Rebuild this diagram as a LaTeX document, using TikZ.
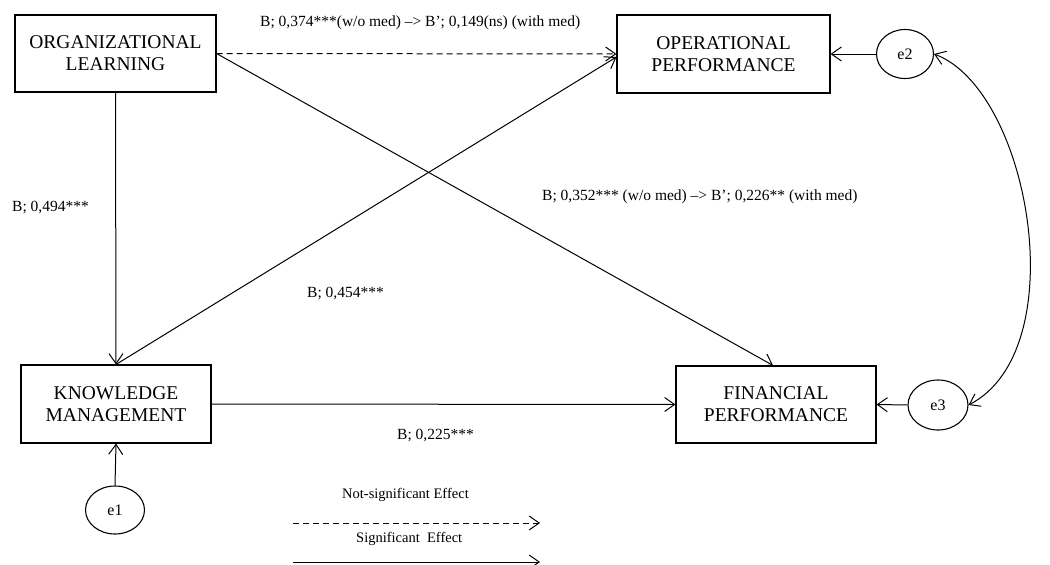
\documentclass[tikz,border=0pt]{standalone}
\usepackage{fontspec}
\setmainfont{Liberation Serif}
\usetikzlibrary{arrows.meta,shapes.geometric,calc}
\tikzset{
  boxnode/.style={draw, line width=1.1pt, inner sep=0pt, align=center,
    font=\fontsize{19.5}{22}\selectfont},
  errnode/.style={draw, ellipse, line width=1.1pt, inner sep=0pt,
    font=\fontsize{16}{18}\selectfont},
  lbl/.style={font=\fontsize{15.5}{17}\selectfont, anchor=base west, inner sep=0pt},
  leglbl/.style={font=\fontsize{14.5}{16}\selectfont, anchor=base west, inner sep=0pt},
  conn/.style={line width=1pt, -{Straight Barb[length=10pt,width=14pt,line width=1pt]}},
  nsconn/.style={conn, dash pattern=on 6pt off 4pt},
  corr/.style={line width=1pt, {Straight Barb[length=10pt,width=14pt,line width=1pt]}-{Straight Barb[length=10pt,width=14pt,line width=1pt]}}
}
\begin{document}
\begin{tikzpicture}[x=1pt,y=-1pt]
\useasboundingbox (0,0) rectangle (1050,565);
% boxes
\node[boxnode, minimum width=201pt, minimum height=77pt] (OL) at (115.5,53.5) {ORGANIZATIONAL\\LEARNING};
\node[boxnode, minimum width=213pt, minimum height=78pt] (OP) at (723.5,54) {OPERATIONAL\\PERFORMANCE};
\node[boxnode, minimum width=190pt, minimum height=78pt] (KM) at (116,404) {KNOWLEDGE\\MANAGEMENT};
\node[boxnode, minimum width=200pt, minimum height=77pt] (FP) at (776,404.5) {FINANCIAL\\PERFORMANCE};
% error terms
\node[errnode, minimum width=59pt, minimum height=48pt] (e1) at (115,510) {e1};
\node[errnode, minimum width=57pt, minimum height=49pt] (e2) at (905,54) {e2};
\node[errnode, minimum width=60pt, minimum height=50pt] (e3) at (938,405) {e3};
% paths
\draw[nsconn] (OL.east) -- (OP.west);
\draw[conn] (OL.east) -- ($(FP.north)+(-3,0)$);
\draw[conn] (OL.south) -- (KM.north);
\draw[conn] (KM.north) -- ($(OP.west)+(0,3)$);
\draw[conn] (KM.east) -- (FP.west);
\draw[conn] (e1.north) -- (KM.south);
\draw[conn] (e2.west) -- (OP.east);
\draw[conn] (e3.west) -- (FP.east);
\draw[corr] (e2.east) .. controls (1030,90) and (1075,350) .. (e3.east);
% labels
\node[lbl] (l1) at (260,26) {B; 0,374***(w/o med) --> B'; 0,149(ns) (with med)};
\node[lbl] (l2) at (12,211) {B; 0,494***};
\node[lbl] (l3) at (542,200) {B; 0,352*** (w/o med) --> B'; 0,226** (with med)};
\node[lbl] (l4) at (307,297) {B; 0,454***};
\node[lbl] (l5) at (397,439) {B; 0,225***};
% legend
\node[leglbl] (g1) at (342,498) {Not-significant Effect};
\node[leglbl] (g2) at (356,542) {Significant~ Effect};
\coordinate (n1) at (293,523);
\coordinate (n2) at (540,523);
\coordinate (s1) at (293,562);
\coordinate (s2) at (540,562);
\draw[nsconn] (n1) -- (n2);
\draw[conn] (s1) -- (s2);
\end{tikzpicture}
\end{document}
